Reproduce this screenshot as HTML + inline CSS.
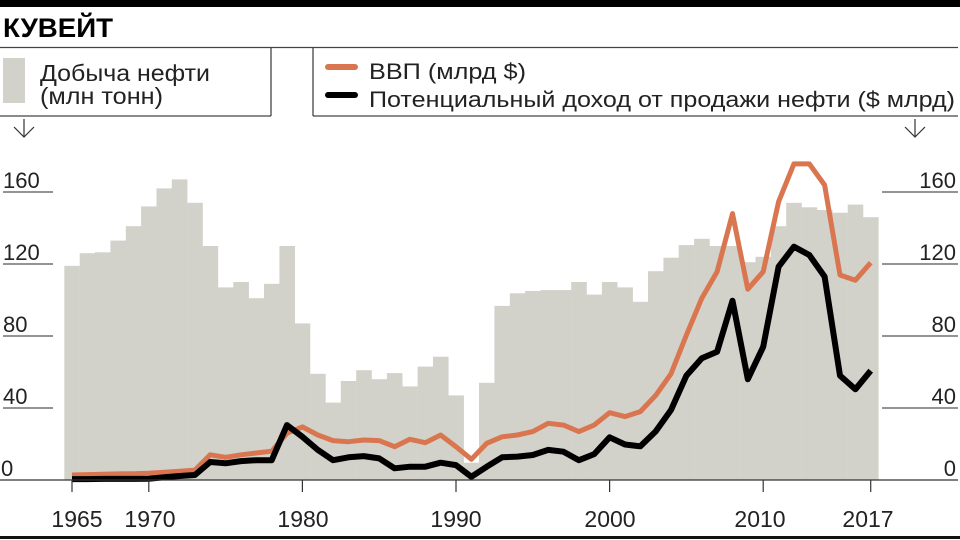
<!DOCTYPE html>
<html><head><meta charset="utf-8">
<style>
html,body{margin:0;padding:0;background:#fff;}
svg{display:block;}
text{font-family:"Liberation Sans",Arial,sans-serif;}
</style></head>
<body>
<svg id="c" width="960" height="540" viewBox="0 0 960 540" xmlns="http://www.w3.org/2000/svg">
<rect x="0" y="0" width="960" height="7" fill="#000"/>
<text x="3" y="37" font-size="27" font-weight="bold" fill="#000" textLength="110" lengthAdjust="spacingAndGlyphs">КУВЕЙТ</text>
<line x1="0" y1="47.5" x2="958" y2="47.5" stroke="#444" stroke-width="1.3"/>
<line x1="271" y1="47.5" x2="271" y2="116" stroke="#444" stroke-width="1.3"/>
<line x1="0" y1="116" x2="271" y2="116" stroke="#444" stroke-width="1.3"/>
<rect x="3" y="58" width="22" height="45" fill="#d2d2ca"/>
<text x="40" y="81" font-size="23" fill="#222" textLength="170" lengthAdjust="spacingAndGlyphs">Добыча нефти</text>
<text x="40" y="104" font-size="23" fill="#222" textLength="123" lengthAdjust="spacingAndGlyphs">(млн тонн)</text>
<line x1="313" y1="47.5" x2="313" y2="116" stroke="#444" stroke-width="1.3"/>
<line x1="313" y1="116" x2="958" y2="116" stroke="#444" stroke-width="1.3"/>
<line x1="328" y1="67" x2="355" y2="67" stroke="#d9764f" stroke-width="6" stroke-linecap="round"/>
<line x1="328" y1="95" x2="355" y2="95" stroke="#000" stroke-width="6" stroke-linecap="round"/>
<text x="369" y="79" font-size="22" fill="#222" textLength="157" lengthAdjust="spacingAndGlyphs">ВВП (млрд $)</text>
<text x="369" y="107" font-size="22" fill="#222" textLength="586" lengthAdjust="spacingAndGlyphs">Потенциальный доход от продажи нефти ($ млрд)</text>
<g stroke="#333" stroke-width="1.2" fill="none">
<line x1="24" y1="119" x2="24" y2="137"/><polyline points="14,127 24,137 34,127"/>
<line x1="915" y1="119" x2="915" y2="137"/><polyline points="905,127 915,137 925,127"/>
</g>
<g id="bars" fill="#d2d2ca"></g>
<g stroke="#555" stroke-width="1.2">
<line x1="3" y1="192" x2="53" y2="192"/><line x1="3" y1="264" x2="53" y2="264"/><line x1="3" y1="336" x2="53" y2="336"/><line x1="3" y1="408" x2="53" y2="408"/>
<line x1="882" y1="192" x2="958" y2="192"/><line x1="882" y1="264" x2="958" y2="264"/><line x1="882" y1="336" x2="958" y2="336"/><line x1="882" y1="408" x2="958" y2="408"/>
</g>
<g font-size="22" fill="#222">
<text x="3" y="188">160</text><text x="3" y="260">120</text><text x="3" y="332">80</text><text x="3" y="404">40</text><text x="1" y="476">0</text>
<g text-anchor="end"><text x="956" y="188">160</text><text x="956" y="260">120</text><text x="956" y="332">80</text><text x="956" y="404">40</text><text x="956" y="476">0</text></g>
</g>
<polyline id="gdp" fill="none" stroke="#d9764f" stroke-width="5" stroke-linejoin="round"/>
<polyline id="rev" fill="none" stroke="#000" stroke-width="6" stroke-linejoin="round"/>
<line x1="0" y1="480" x2="958" y2="480" stroke="#333" stroke-width="1.3"/>
<g id="ticks" stroke="#333" stroke-width="1.2"></g>
<g font-size="23" fill="#222" text-anchor="middle">
<text x="77" y="527">1965</text><text x="150" y="527">1970</text><text x="303" y="527">1980</text><text x="456" y="527">1990</text><text x="610" y="527">2000</text><text x="760" y="527">2010</text><text x="868" y="527">2017</text>
</g>
<rect x="0" y="536" width="960" height="3" fill="#111"/>
</svg>
<script>
var X=function(y){return 72+(y-1965)*15.36;}, Y=function(v){return 480-v*1.8;};
var bars=[119,126,126.5,133,141,152,162,167,154,130,107,110,101,109,130,87,59,43,55,61,56,59.4,52,63,68.5,47,9.6,54,96.7,103.7,105,105.5,105.5,110,103,110,107,99,116,123.5,130.5,134,130,130,121,124,141,154,151.5,150,148.5,153,146];
var gdp=[2.8,3,3.2,3.4,3.5,3.7,4.3,4.9,5.5,14,12.6,14,15,16,26,29.5,25,21.9,21.3,22.2,21.9,18.5,22.6,20.7,25,18.5,11.5,20.4,24,25,26.9,31.5,30.5,26.9,30.5,37.4,35.2,38,47,59,80.5,101,115.7,148,106,115.7,154.6,175.6,175.6,163.9,113.9,111,120.7];
var rev=[0.5,0.5,0.6,0.6,0.6,0.7,1.5,2.2,2.8,10,9.3,10.5,11,11,30.5,24,16.7,11,12.6,13.3,12,6.5,7.4,7.4,9.6,8.3,1.8,7.4,12.6,13,13.9,16.7,15.7,11,14.4,23.7,19.7,18.7,27,38.9,58,67.6,71.3,99.6,56,74,118.5,129.6,125,113,58,50.4,60.7];
var ns="http://www.w3.org/2000/svg",g=document.getElementById("bars");
bars.forEach(function(v,i){var r=document.createElementNS(ns,"rect");var x=X(1965+i)-7.68;r.setAttribute("x",x.toFixed(1));r.setAttribute("width","15.6");r.setAttribute("y",Y(v).toFixed(1));r.setAttribute("height",(v*1.8).toFixed(1));g.appendChild(r);});
function pts(a){return a.map(function(v,i){return X(1965+i).toFixed(1)+","+Y(v).toFixed(1);}).join(" ");}
document.getElementById("gdp").setAttribute("points",pts(gdp));
document.getElementById("rev").setAttribute("points",pts(rev));
var t=document.getElementById("ticks");
[1965,1970,1980,1990,2000,2010,2017].forEach(function(y){var l=document.createElementNS(ns,"line");l.setAttribute("x1",X(y));l.setAttribute("x2",X(y));l.setAttribute("y1",480);l.setAttribute("y2",492);t.appendChild(l);});
</script>
</body></html>
